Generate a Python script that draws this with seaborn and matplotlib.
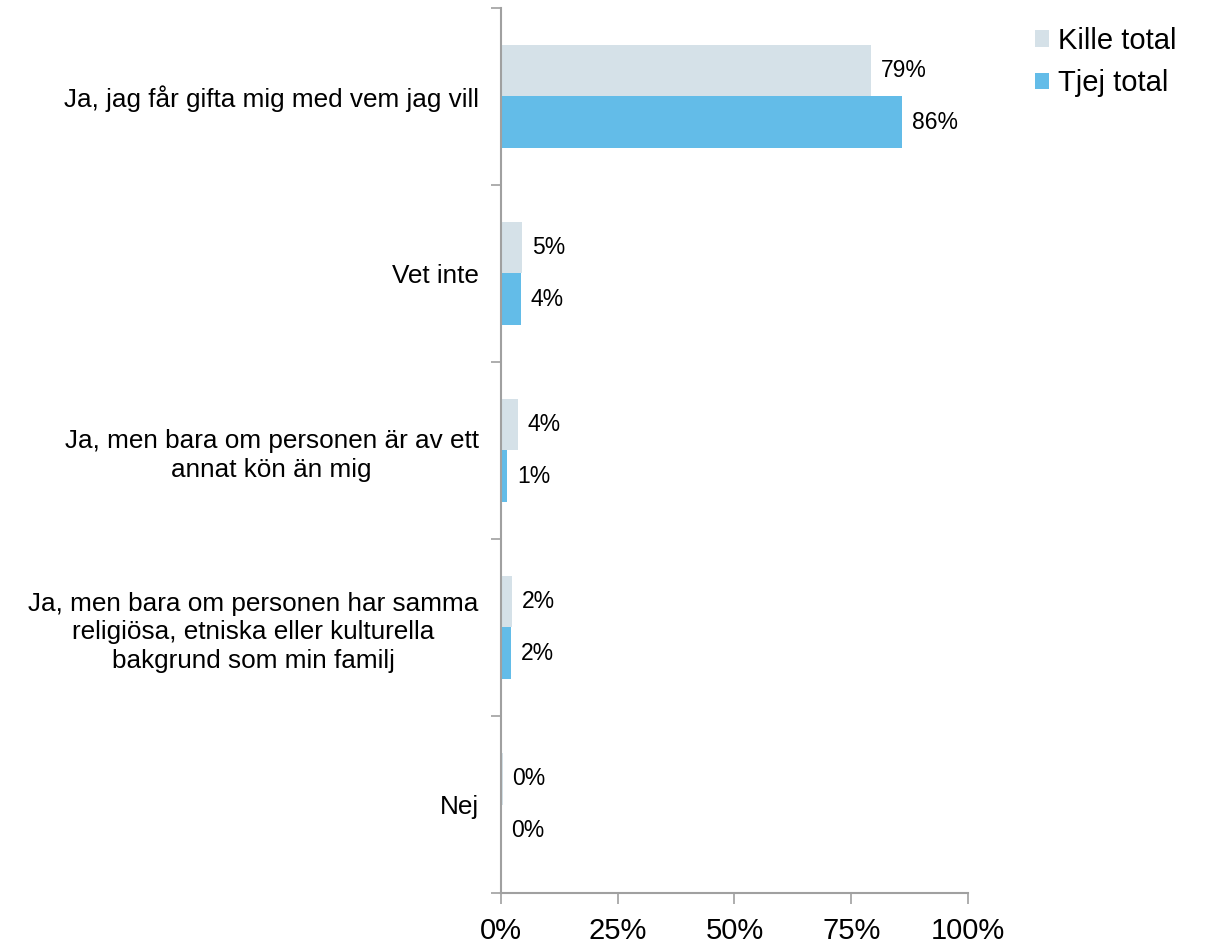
import matplotlib
matplotlib.use("Agg")
import matplotlib.pyplot as plt
import numpy as np
import pandas as pd
import seaborn as sns
from matplotlib.ticker import FixedLocator, PercentFormatter

# Chart data (percent)
categories = [
	"Ja, jag får gifta mig med vem jag vill",
	"Vet inte",
	"Ja, men bara om personen är av ett\nannat kön än mig",
	"Ja, men bara om personen har samma\nreligiösa, etniska eller kulturella\nbakgrund som min familj",
	"Nej",
]
groups = ["Kille total", "Tjej total"]
kille = [79.2, 4.6, 3.7, 2.3, 0.4]
tjej = [85.9, 4.2, 1.3, 2.1, 0.0]
x_ticks = [0, 25, 50, 75, 100]

df = pd.DataFrame({
	"category": categories * 2,
	"group": [groups[0]] * len(categories) + [groups[1]] * len(categories),
	"value": kille + tjej,
})

sns.set_style("white")
plt.rcParams["font.family"] = ["Liberation Sans", "DejaVu Sans"]
plt.rcParams["text.color"] = "black"
plt.rcParams["xtick.labelcolor"] = "black"
plt.rcParams["ytick.labelcolor"] = "black"

fig = plt.figure(figsize = (12.08, 9.44), dpi = 100)
ax = fig.add_axes([0.4147, 0.054, 0.3866, 0.9376])

palette = {"Kille total": "#D5E1E8", "Tjej total": "#63BCE8"}
sns.barplot(data = df, y = "category", x = "value", hue = "group", order = categories,
	hue_order = groups, palette = palette, saturation = 1, width = 0.58, orient = "h",
	linewidth = 0, ax = ax, legend = True)

for cont in ax.containers:
	ax.bar_label(cont, labels = ["%.0f%%" % v for v in cont.datavalues], padding = 7, fontsize = 16.5, color = "black")

ax.set_xlim(0, 100)
ax.set_ylim(len(categories) - 0.5, -0.5)
ax.set(xlabel = None, ylabel = None)
ax.xaxis.set_major_locator(FixedLocator(x_ticks))
ax.xaxis.set_major_formatter(PercentFormatter(100, decimals = 0))
ax.yaxis.set_minor_locator(FixedLocator(np.arange(-0.5, len(categories), 1.0)))

for s in ["top", "right"]:
	ax.spines[s].set_visible(False)
for s in ["left", "bottom"]:
	ax.spines[s].set_color("#A0A0A0")
	ax.spines[s].set_linewidth(1.5)

ax.tick_params(axis = "x", which = "major", length = 8, width = 1.2, color = "#A0A0A0", labelsize = 21, pad = 9, bottom = True, direction = "out")
ax.tick_params(axis = "y", which = "major", length = 0, labelsize = 18.8, pad = 16)
ax.tick_params(axis = "y", which = "minor", length = 7, width = 1.2, color = "#A0A0A0", left = True, direction = "out")
for lbl in ax.get_yticklabels():
	lbl.set_multialignment("center")
	lbl.set_linespacing(1.25)

leg = ax.legend(loc = "upper left", bbox_to_anchor = (1.118, 0.992), frameon = False, fontsize = 21,
	handlelength = 0.5, handleheight = 0.5, handletextpad = 0.3, labelspacing = 0.5, borderaxespad = 0)

plt.savefig("out.png", dpi = 100)
plt.close()
